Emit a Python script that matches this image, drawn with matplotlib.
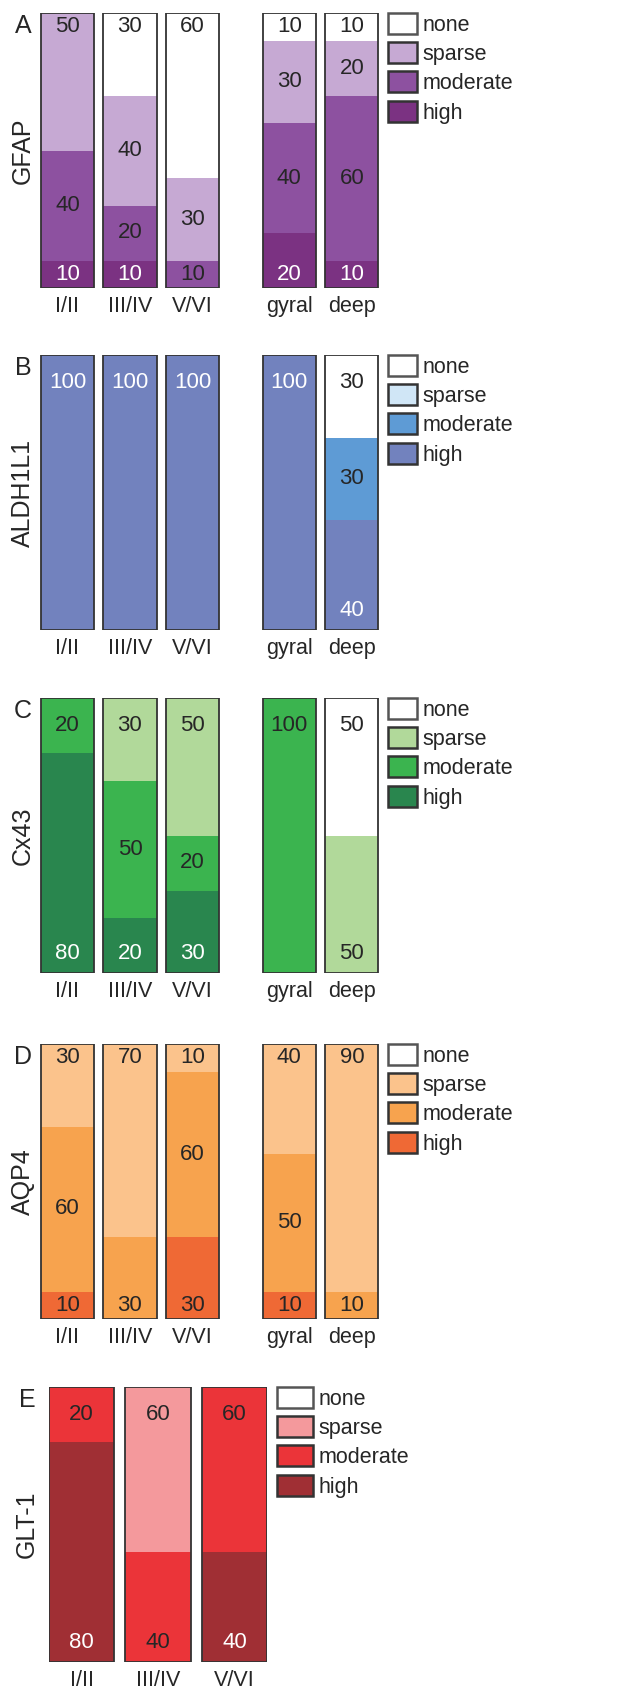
import numpy as np
import matplotlib
matplotlib.use('Agg')
from matplotlib import pyplot as plt
from matplotlib.patches import Patch

plt.rcParams['font.family'] = ['Liberation Sans', 'DejaVu Sans']

W, H = 635, 1688
FS = 15.5      # ticks, legend
FS_VAL = 16    # numbers inside the bars
FS_BIG = 18    # panel letters and marker names
DARK = '#262626'
EDGE = '#333333'

levels = ['none', 'sparse', 'moderate', 'high']
regions = ['I/II', 'III/IV', 'V/VI', 'gyral', 'deep']
regions_e = ['I/II', 'III/IV', 'V/VI']

# percentages per region, columns = none, sparse, moderate, high
gfap = [[0, 50, 40, 10],
        [30, 40, 20, 10],
        [60, 30, 10, 0],
        [10, 30, 40, 20],
        [10, 20, 60, 10]]
aldh1l1 = [[0, 0, 0, 100],
           [0, 0, 0, 100],
           [0, 0, 0, 100],
           [0, 0, 0, 100],
           [30, 0, 30, 40]]
cx43 = [[0, 0, 20, 80],
        [0, 30, 50, 20],
        [0, 50, 20, 30],
        [0, 0, 100, 0],
        [50, 50, 0, 0]]
aqp4 = [[0, 30, 60, 10],
        [0, 70, 30, 0],
        [0, 10, 60, 30],
        [0, 40, 50, 10],
        [0, 90, 10, 0]]
glt1 = [[0, 0, 20, 80],
        [0, 60, 40, 0],
        [0, 0, 60, 40]]

colors_a = ['#FFFFFF', '#C6A9D3', '#8D51A0', '#7B3282']
colors_b = ['#FFFFFF', '#D0E6F6', '#5E9BD5', '#7282BE']
colors_c = ['#FFFFFF', '#B1D99A', '#3BB44F', '#29864E']
colors_d = ['#FFFFFF', '#FBC38C', '#F7A34E', '#EF6935']
colors_e = ['#FFFFFF', '#F4999C', '#EB3439', '#A02F34']

fig = plt.figure(figsize=(W / 100, H / 100), dpi=100)


def px_axes(left, top, width, height):
    return fig.add_axes([left / W, 1 - (top + height) / H, width / W, height / H])


def draw_panel(ax, letter, name, cats, pos, data, cols, white_high, lab_x, leg_x, hl):
    data = np.array(data, dtype=float)
    # top / bottom label offsets, shared across the panel
    tops, bots = [], []
    for row in data:
        nz = [v for v in row if v > 0]
        tops.append(nz[0])
        if len(nz) > 1:
            bots.append(nz[-1])
    top_off = min(10, min(tops) / 2)
    bot_off = min(7, min(bots) / 2) if bots else 7

    for i, row in enumerate(data):
        bottom = 0
        segs = []
        for k in [3, 2, 1, 0]:
            v = row[k]
            if v <= 0:
                continue
            ax.bar(pos[i], v, 0.85, bottom=bottom, color=cols[k], linewidth=0)
            segs.append((k, bottom, v))
            bottom += v
        ax.bar(pos[i], 100, 0.85, fill=False, edgecolor=EDGE, linewidth=1.3)
        n = len(segs)
        for j, (k, b, v) in enumerate(segs):
            if j == n - 1:
                y = 100 - top_off
            elif j == 0:
                y = bot_off
            else:
                y = b + v / 2
            tc = 'white' if (k == 3 and white_high) else DARK
            ax.text(pos[i], y, '%d' % v, ha='center', va='center',
                    fontsize=FS_VAL, color=tc)

    ax.set_ylim(0, 100)
    ax.set_xticks(pos)
    ax.set_xticklabels(cats)
    ax.tick_params(axis='x', length=0, pad=6, labelsize=FS, labelcolor=DARK)
    ax.set_yticks([])
    for s in ax.spines.values():
        s.set_visible(False)

    ax.text(lab_x, 0.5, name, transform=ax.transAxes, rotation=90,
            ha='center', va='center', fontsize=FS_BIG, color=DARK)
    ax.text(lab_x, 0.997, letter, transform=ax.transAxes,
            ha='center', va='top', fontsize=FS_BIG, color=DARK)

    handles = [Patch(facecolor=cols[k], edgecolor=EDGE if k > 0 else '#555555',
                     linewidth=1.8) for k in range(4)]
    ax.legend(handles, levels, loc='upper left', bbox_to_anchor=(leg_x, 1.0),
              frameon=False, fontsize=FS, handlelength=hl, handleheight=1.12,
              labelspacing=0.3, handletextpad=0.25, borderpad=0.0,
              borderaxespad=0.0, labelcolor=DARK)


pos5 = [0, 1, 2, 3.55, 4.55]
pos3 = [0, 1, 2]
panels = [
    ('A', 'GFAP', gfap, colors_a, True, 13),
    ('B', 'ALDH1L1', aldh1l1, colors_b, True, 355),
    ('C', 'Cx43', cx43, colors_c, True, 698),
    ('D', 'AQP4', aqp4, colors_d, False, 1044),
]
for letter, name, data, cols, wh, top in panels:
    ax = px_axes(40, top, 339, 275)
    ax.set_xlim(-0.44, 4.985)
    draw_panel(ax, letter, name, regions, pos5, data, cols, wh,
               -0.05, 1.027, 1.35)

ax = px_axes(49, 1387, 218, 275)
ax.set_xlim(-0.425, 2.425)
draw_panel(ax, 'E', 'GLT-1', regions_e, pos3, glt1, colors_e, True,
           -0.1, 1.046, 1.67)

plt.savefig('out.png', dpi=100)
